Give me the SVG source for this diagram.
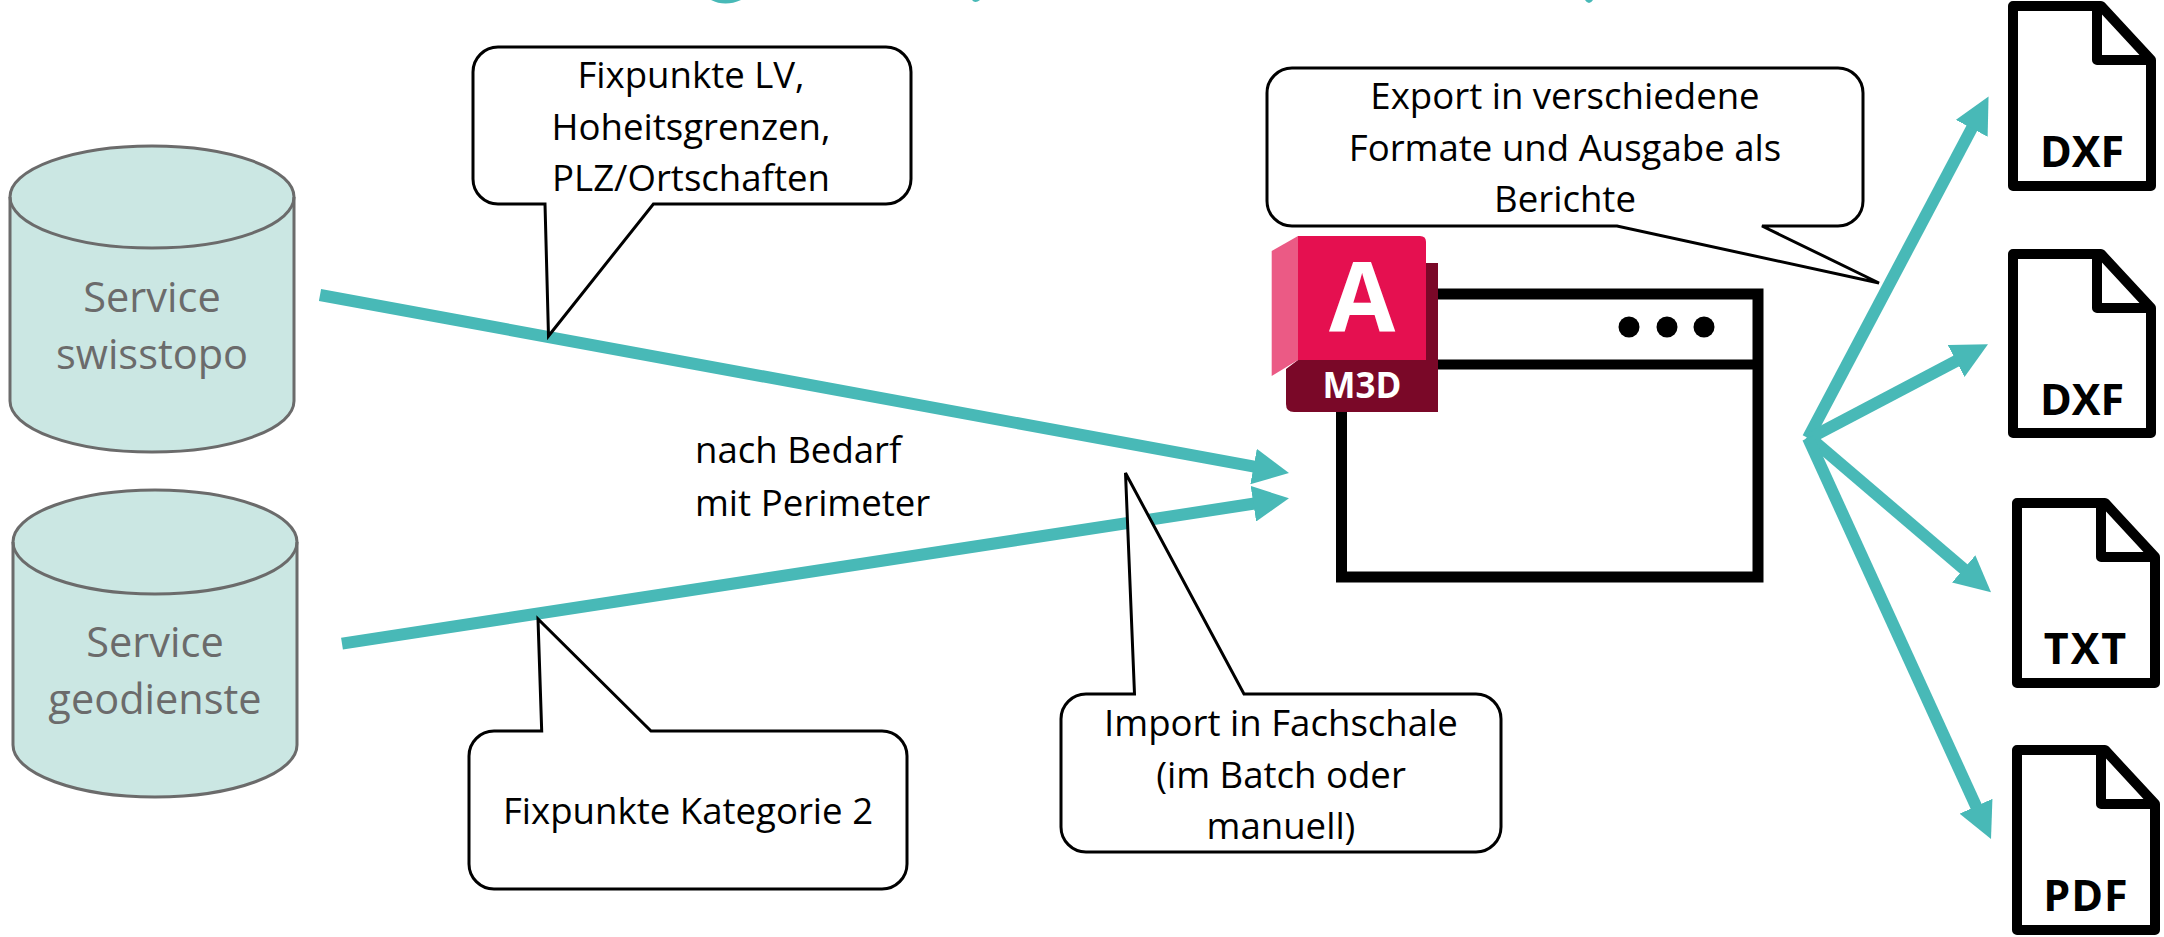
<svg xmlns="http://www.w3.org/2000/svg" width="2164" height="937" viewBox="0 0 2164 937">
<style>
text{font-family:"Open Sans","Noto Sans","Liberation Sans",sans-serif}
.db{fill:#cbe7e3;stroke:#6b6b6b;stroke-width:3}
.dbt{font-size:41.5px;fill:#6b6b6b;text-anchor:middle}
.conn{stroke:#48b9b7;stroke-width:12;fill:none;marker-end:url(#head)}
.call{fill:#fff;stroke:#000;stroke-width:3;stroke-linejoin:miter}
.ct{font-size:36.6px;fill:#000;text-anchor:middle}
.lbl{font-size:36.6px;fill:#000}
.file{fill:#fff;stroke:#000;stroke-width:10;stroke-linejoin:round}
.ft{font-size:43px;font-weight:700;fill:#000;text-anchor:middle}
.win{fill:#fff;stroke:#000;stroke-width:11}
.title{fill:#48b9b7}
</style>
<defs>
<marker id="head" markerUnits="userSpaceOnUse" markerWidth="37" markerHeight="36" refX="16" refY="18" orient="auto"><path d="M0,0L36,18L0,36z" fill="#48b9b7"/></marker>
</defs>
<rect width="2164" height="937" fill="#fff"/>
<g id="title-remnants" class="title">
<path d="M711,0Q725,7 741,0z"/><path d="M972,0Q975,4 980,0z"/><path d="M1585,0Q1589,6 1593,0z"/>
</g>
<g id="window">
<rect class="win" x="1341.5" y="294" width="416.5" height="283"/>
<path d="M1341.5,364.5H1758" stroke="#000" stroke-width="10" fill="none"/>
<circle cx="1629" cy="327" r="10.5"/><circle cx="1667" cy="327" r="10.5"/><circle cx="1704" cy="327" r="10.5"/>
</g>
<g id="connectors">
<line class="conn" x1="320" y1="295" x2="1269.3" y2="469.4"/>
<line class="conn" x1="342" y1="643.6" x2="1269.2" y2="501.3"/>
<line class="conn" x1="1808" y1="438" x2="1979.2" y2="114.2"/>
<line class="conn" x1="1808" y1="439" x2="1970.3" y2="353.6"/>
<line class="conn" x1="1808" y1="436" x2="1975.8" y2="579.3"/>
<line class="conn" x1="1808" y1="438" x2="1982.7" y2="820.8"/>
</g>
<g id="db-swisstopo">
<path class="db" d="M10,197A142,51 0 0 1 294,197V401A142,51 0 0 1 10,401z"/>
<path class="db" style="fill:none" d="M10,197A142,51 0 0 0 294,197"/>
<text class="dbt" x="152" y="312">Service</text>
<text class="dbt" x="152" y="369">swisstopo</text>
</g>
<g id="db-geodienste">
<path class="db" d="M13,542A142,52 0 0 1 297,542V745A142,52 0 0 1 13,745z"/>
<path class="db" style="fill:none" d="M13,542A142,52 0 0 0 297,542"/>
<text class="dbt" x="155" y="657">Service</text>
<text class="dbt" x="155" y="714">geodienste</text>
</g>
<g id="callout-fixpunkte-lv">
<path class="call" d="M498,47H886A25,25 0 0 1 911,72V179A25,25 0 0 1 886,204H653.4L548.5,336L545,204H498A25,25 0 0 1 473,179V72A25,25 0 0 1 498,47z"/>
<text class="ct" x="691" y="88">Fixpunkte LV,</text>
<text class="ct" x="691" y="140">Hoheitsgrenzen,</text>
<text class="ct" x="691" y="191">PLZ/Ortschaften</text>
</g>
<g id="callout-export">
<path class="call" d="M1292,68H1838A25,25 0 0 1 1863,93V201A25,25 0 0 1 1838,226H1762L1879,283L1617,226H1292A25,25 0 0 1 1267,201V93A25,25 0 0 1 1292,68z"/>
<text class="ct" x="1565" y="109">Export in verschiedene</text>
<text class="ct" x="1565" y="161">Formate und Ausgabe als</text>
<text class="ct" x="1565" y="212">Berichte</text>
</g>
<g id="callout-kategorie">
<path class="call" d="M494,731H541.7L538,619L651,731H882A25,25 0 0 1 907,756V864A25,25 0 0 1 882,889H494A25,25 0 0 1 469,864V756A25,25 0 0 1 494,731z"/>
<text class="ct" x="688" y="824">Fixpunkte Kategorie 2</text>
</g>
<g id="callout-import">
<path class="call" d="M1086,694H1134.5L1125.5,473L1244,694H1476A25,25 0 0 1 1501,719V827A25,25 0 0 1 1476,852H1086A25,25 0 0 1 1061,827V719A25,25 0 0 1 1086,694z"/>
<text class="ct" x="1281" y="736">Import in Fachschale</text>
<text class="ct" x="1281" y="788">(im Batch oder</text>
<text class="ct" x="1281" y="839">manuell)</text>
</g>
<g id="label-bedarf">
<text class="lbl" x="695" y="463">nach Bedarf</text>
<text class="lbl" x="695" y="516">mit Perimeter</text>
</g>
<g id="logo">
<path fill="#7a0828" d="M1426,263H1438V412H1294Q1286,412 1286,404V369L1298,360H1426z"/>
<path fill="#eb5a85" d="M1271.7,251L1298,236V360L1271.7,376z"/>
<path fill="#e51050" d="M1298,236H1420Q1426,236 1426,242V360H1298z"/>
<text x="1362" y="332" font-size="96" font-weight="700" fill="#fff" text-anchor="middle">A</text>
<text x="1362" y="398" font-size="35" font-weight="700" fill="#fff" text-anchor="middle">M3D</text>
</g>
<g id="file-dxf-1">
<path class="file" d="M2013,6H2101L2151,60V186H2013z"/>
<path d="M2097,6V60H2151" fill="none" stroke="#000" stroke-width="10" stroke-linejoin="round"/>
<text class="ft" x="2082" y="167">DXF</text>
</g>
<g id="file-dxf-2">
<path class="file" d="M2013,254H2101L2151,308V433H2013z"/>
<path d="M2097,254V308H2151" fill="none" stroke="#000" stroke-width="10" stroke-linejoin="round"/>
<text class="ft" x="2082" y="415">DXF</text>
</g>
<g id="file-txt">
<path class="file" d="M2017,503H2105L2155,557V683H2017z"/>
<path d="M2101,503V557H2155" fill="none" stroke="#000" stroke-width="10" stroke-linejoin="round"/>
<text class="ft" x="2086" y="664" letter-spacing="2">TXT</text>
</g>
<g id="file-pdf">
<path class="file" d="M2017,750H2105L2155,804V930H2017z"/>
<path d="M2101,750V804H2155" fill="none" stroke="#000" stroke-width="10" stroke-linejoin="round"/>
<text class="ft" x="2086" y="911" letter-spacing="1">PDF</text>
</g>
</svg>
